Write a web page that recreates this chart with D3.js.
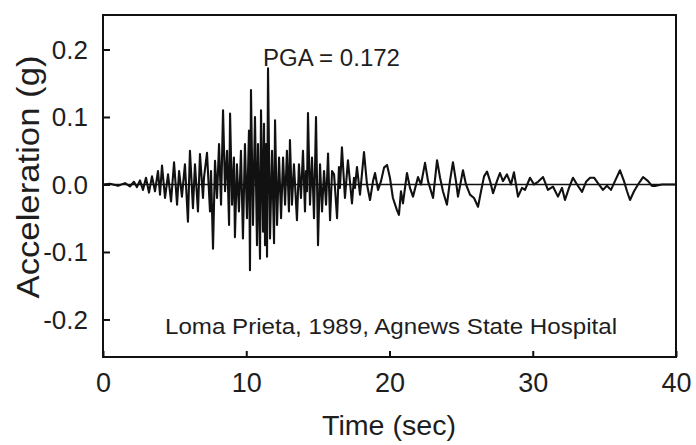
<!DOCTYPE html>
<html><head><meta charset="utf-8">
<script src="https://cdn.jsdelivr.net/npm/d3@7"></script>
<style>html,body{margin:0;padding:0;background:#fff;}svg{display:block;}</style>
</head><body>
<svg id="c" width="696" height="445"></svg>
<script>
// Time (sec) of each extreme of the trace
const times = [0,0.49,1.05,1.54,1.88,2.16,2.37,2.58,2.79,3.00,3.21,3.42,3.63,3.84,3.98,4.12,4.33,4.54,4.75,4.96,5.17,5.31,5.51,5.72,5.93,6.07,6.28,6.42,6.63,6.77,6.98,7.05,7.26,7.47,7.54,7.68,7.82,7.96,8.10,8.24,8.38,8.52,8.66,8.80,8.87,9.01,9.14,9.21,9.35,9.49,9.63,9.77,9.91,10.05,10.19,10.26,10.33,10.47,10.61,10.75,10.82,10.96,11.03,11.17,11.24,11.31,11.38,11.45,11.52,11.66,11.80,11.94,12.01,12.15,12.29,12.43,12.57,12.71,12.84,12.98,13.05,13.19,13.33,13.54,13.68,13.82,13.96,14.10,14.17,14.24,14.31,14.45,14.59,14.73,14.87,15.01,15.15,15.29,15.43,15.57,15.71,15.85,15.99,16.13,16.34,16.47,16.54,16.68,16.89,17.10,17.38,17.52,17.59,17.73,17.94,18.22,18.43,18.64,18.85,18.99,19.20,19.41,19.62,19.83,20.03,20.24,20.52,20.66,20.80,20.94,21.22,21.43,21.64,21.99,22.20,22.48,22.69,23.04,23.32,23.53,23.73,24.01,24.22,24.43,24.64,24.78,25.13,25.34,25.62,25.90,26.18,26.39,26.60,26.81,27.02,27.23,27.50,27.71,27.92,28.20,28.48,28.69,28.97,29.25,29.46,29.81,30.09,30.37,30.72,31.06,31.41,31.76,32.04,32.25,32.53,32.81,33.09,33.44,33.72,34.00,34.28,34.55,34.90,35.18,35.46,35.74,36.09,36.37,36.58,36.79,37.07,37.35,37.70,38.05,38.32,38.60,39.02,40.00];
// Acceleration (g) at each of those times
const accel = [0,0.001,-0.002,0.002,-0.003,0.004,-0.004,0.006,-0.008,0.01,-0.012,0.012,-0.01,0.02,-0.015,0.028,-0.02,0.015,-0.025,0.033,-0.03,0.02,-0.018,0.03,-0.055,0.05,-0.035,0.03,-0.04,0.045,-0.02,0.01,0.047,-0.04,0.02,-0.095,0.035,-0.02,0.06,-0.03,0.11,-0.01,0.05,-0.06,0.105,-0.03,0.04,-0.078,0.03,-0.04,0.05,-0.08,0.06,-0.05,0.08,-0.127,0.14,-0.06,0.10,-0.09,0.06,-0.11,0.11,-0.07,0.09,-0.09,0.06,-0.107,0.172,-0.08,0.05,-0.087,0.095,-0.06,0.04,-0.05,0.04,-0.03,0.05,-0.04,0.066,-0.03,0.03,-0.053,0.03,-0.02,0.05,-0.04,0.02,-0.01,0.106,-0.03,0.04,-0.05,0.10,-0.09,0.03,-0.04,0.02,-0.03,0.046,-0.053,0.02,0.015,-0.05,0.026,-0.005,0.055,-0.02,0.036,-0.028,0.01,-0.005,0.026,-0.015,0.048,0.0,-0.023,0.005,0.017,-0.008,0.005,0.025,0.029,0.01,-0.02,-0.038,-0.045,-0.01,-0.028,0.017,-0.005,-0.018,0.011,0.0,0.032,0.005,-0.02,0.036,0.01,-0.01,-0.03,0.005,0.033,0.005,-0.018,0.021,0.0,-0.015,-0.02,-0.033,-0.01,0.012,0.019,0.005,-0.013,0.005,0.017,0.005,0.015,0.0,0.018,-0.018,-0.005,-0.008,0.01,0.0,0.004,0.011,-0.008,-0.003,-0.018,-0.005,-0.023,-0.005,0.01,0.0,-0.011,0.004,0.01,0.01,0.002,-0.008,-0.002,-0.008,0.005,0.021,0.005,-0.01,-0.023,-0.01,0.0,0.011,0.005,-0.002,-0.002,0,0];
const xTicks = [0,10,20,30,40];
const yTicks = [0.2,0.1,0.0,-0.1,-0.2];
const xTitle = "Time (sec)";
const yTitle = "Acceleration (g)";
const pgaLabel = "PGA = 0.172";
const recordLabel = "Loma Prieta, 1989, Agnews State Hospital";

const svg = d3.select("#c");
const L = 103, R = 676, T = 15, B = 357;
const x = d3.scaleLinear().domain([0,40]).range([L,R]);
const y = d3.scaleLinear().domain([-0.2556,0.2511]).range([B,T]);
const font = "'Liberation Sans', Arial, sans-serif";
const ink = "#111";
const txt = "#1e1e1e";

const pts = times.map((t,i)=>[t,accel[i]]);

// zero line
svg.append("line").attr("x1",L).attr("x2",R).attr("y1",y(0)).attr("y2",y(0))
  .attr("stroke",ink).attr("stroke-width",1.6);

// trace
svg.append("path").datum(pts)
  .attr("d", d3.line().x(d=>x(d[0])).y(d=>y(d[1])))
  .attr("fill","none").attr("stroke",ink).attr("stroke-width",2.1).attr("stroke-linejoin","round");

// axes (ticks inward)
const yAxis = d3.axisLeft(y).tickValues(yTicks).tickSize(-7).tickPadding(15).tickFormat(d3.format(".1f"));
const gy = svg.append("g").attr("transform",`translate(${L},0)`).call(yAxis);
gy.select(".domain").remove();
gy.selectAll("line").attr("stroke",ink).attr("stroke-width",2);
gy.selectAll("text").attr("font-family",font).attr("font-size",26).attr("fill",txt)
  .attr("dy","0.34em")
  .text(d=>d3.format(".1f")(d).replace("−","-"));

const xAxis = d3.axisBottom(x).tickValues(xTicks).tickSize(-6).tickPadding(16).tickFormat(d3.format("d"));
const gx = svg.append("g").attr("transform",`translate(0,${B})`).call(xAxis);
gx.select(".domain").remove();
gx.selectAll("line").attr("stroke",ink).attr("stroke-width",2);
gx.selectAll("text").attr("font-family",font).attr("font-size",27).attr("fill",txt);

// frame
svg.append("rect").attr("x",L).attr("y",T).attr("width",R-L).attr("height",B-T)
  .attr("fill","none").attr("stroke",ink).attr("stroke-width",2);

// titles
svg.append("text").attr("x",389).attr("y",435).attr("text-anchor","middle")
  .attr("font-family",font).attr("font-size",28).attr("fill",txt)
  .attr("textLength",134).attr("lengthAdjust","spacingAndGlyphs").text(xTitle);
svg.append("text").attr("transform","translate(39,177) rotate(-90)").attr("text-anchor","middle")
  .attr("font-family",font).attr("font-size",31).attr("fill",txt)
  .attr("textLength",243).attr("lengthAdjust","spacingAndGlyphs").text(yTitle);

svg.append("text").attr("x",263).attr("y",66)
  .attr("font-family",font).attr("font-size",23).attr("fill",txt)
  .attr("textLength",137).attr("lengthAdjust","spacingAndGlyphs").text(pgaLabel);
svg.append("text").attr("x",391).attr("y",334).attr("text-anchor","middle")
  .attr("font-family",font).attr("font-size",22).attr("fill",txt)
  .attr("textLength",452).attr("lengthAdjust","spacingAndGlyphs").text(recordLabel);
</script>
</body></html>
